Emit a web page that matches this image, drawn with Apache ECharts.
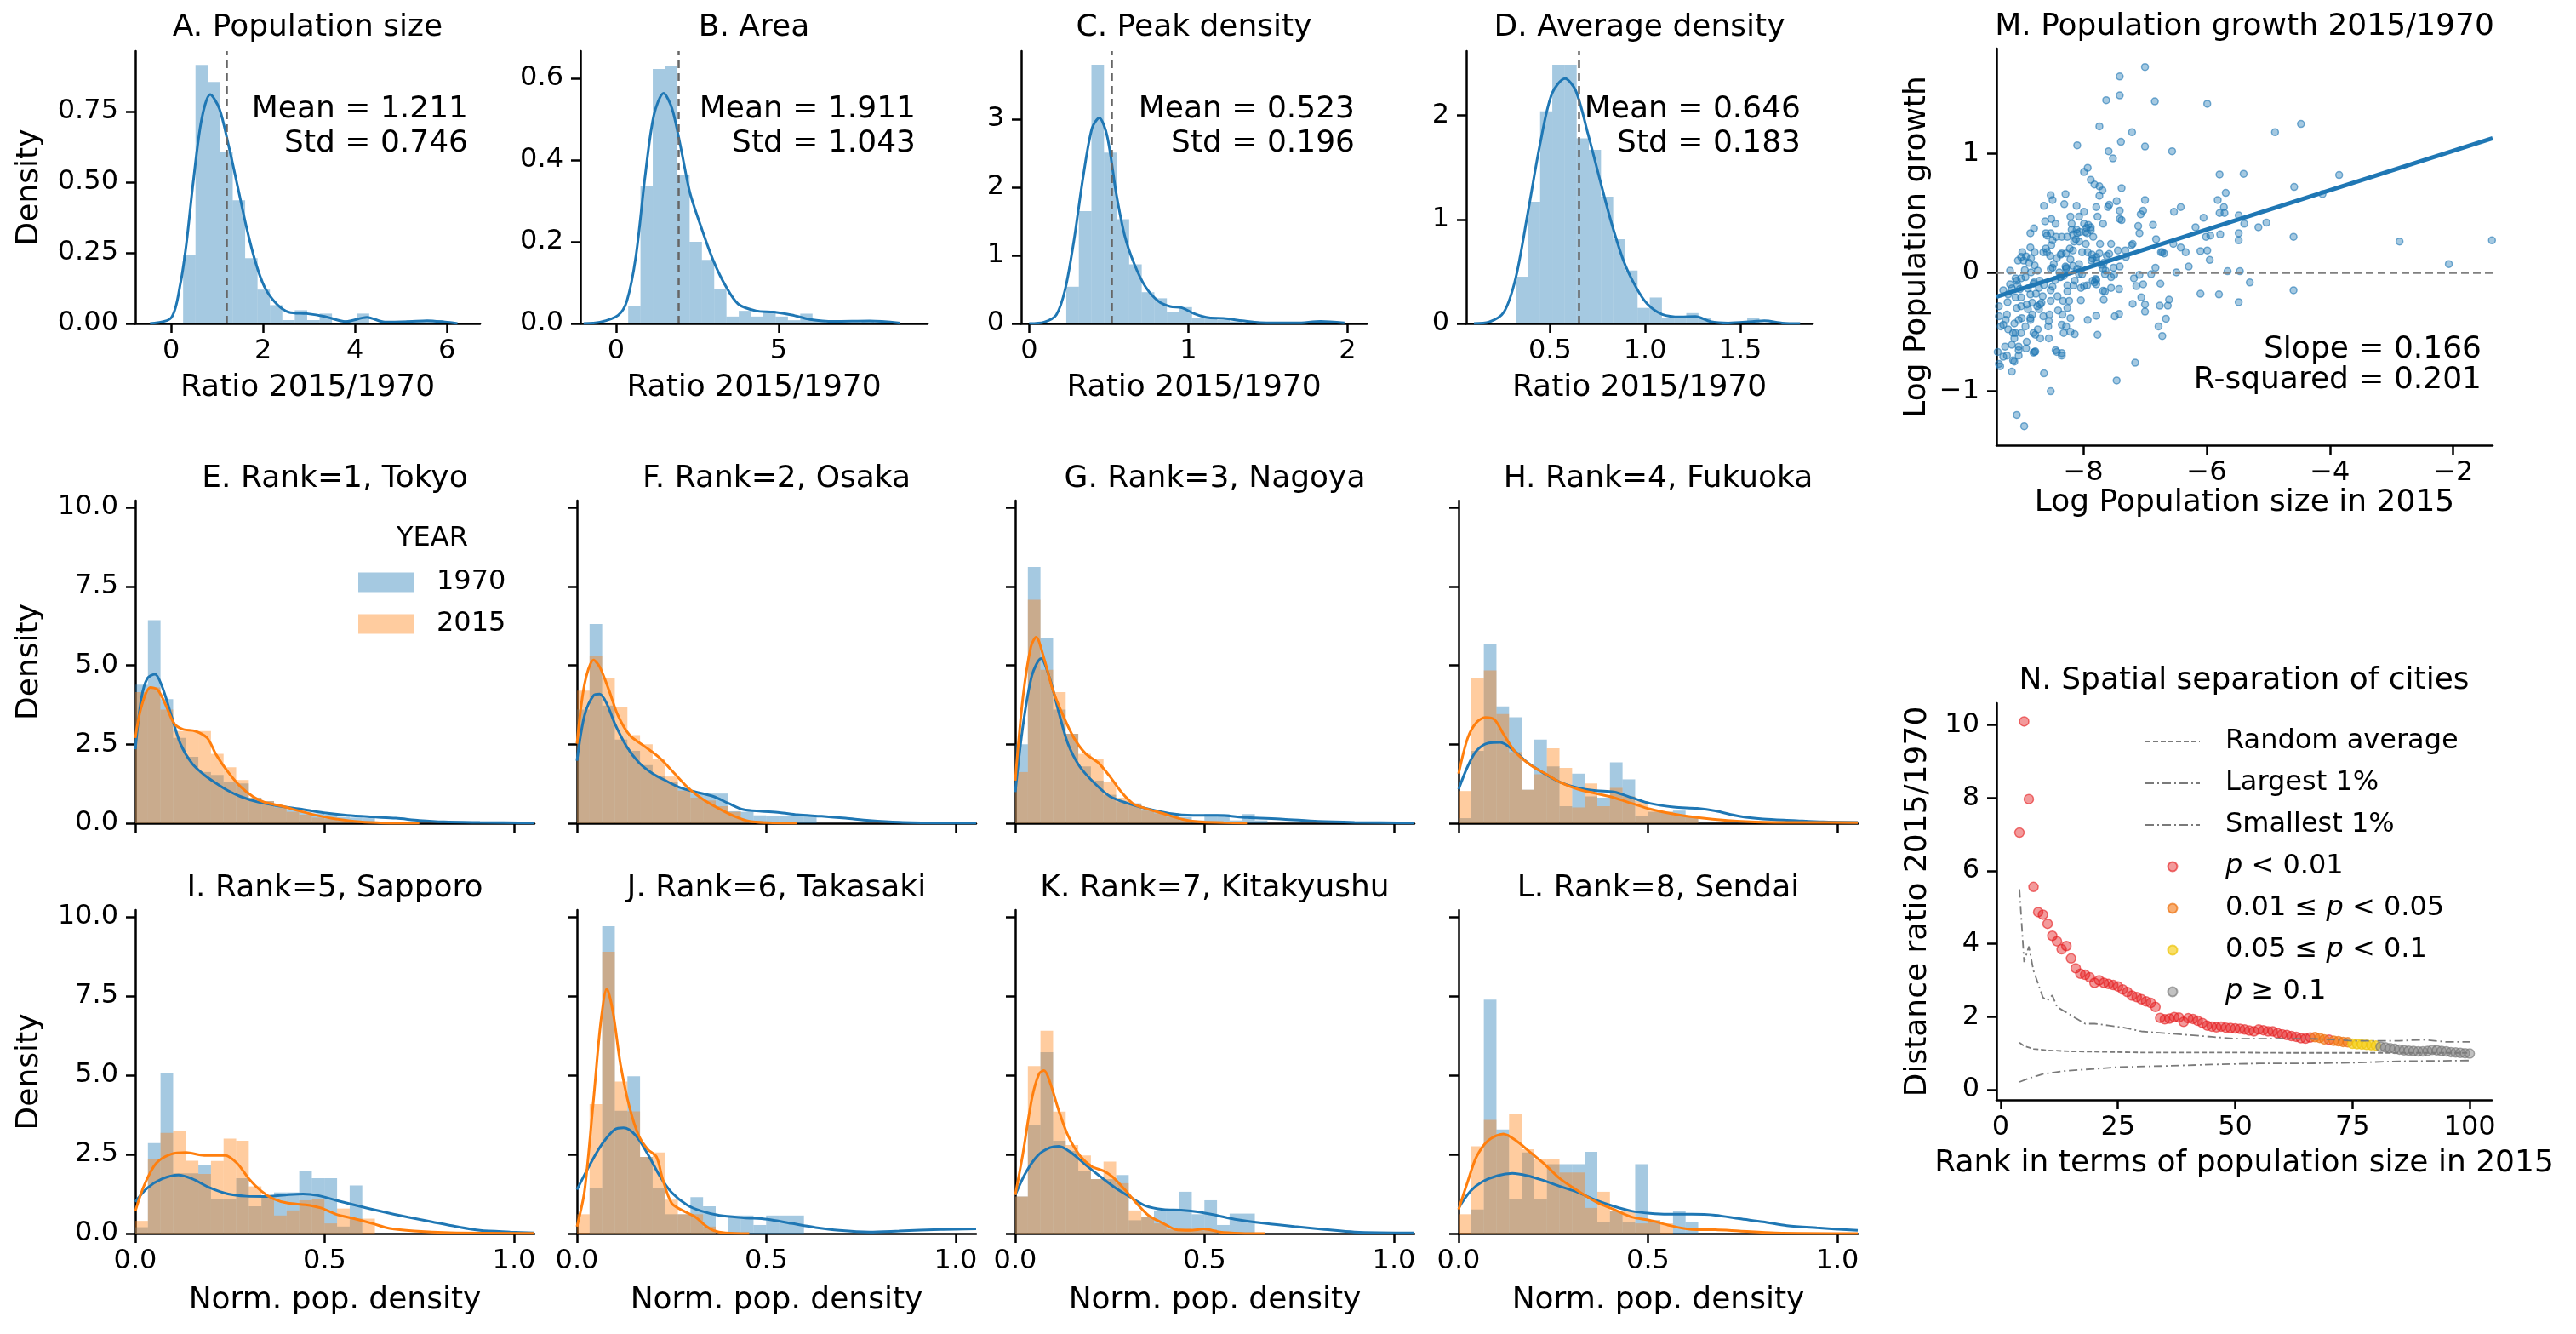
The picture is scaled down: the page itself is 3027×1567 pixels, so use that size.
<!DOCTYPE html>
<html><head><meta charset="utf-8">
<script src="https://cdn.jsdelivr.net/npm/echarts@6/dist/echarts.min.js"></script>
<style>html,body{margin:0;padding:0;background:#fff}#c{width:3027px;height:1567px}</style>
</head><body><div id="c"></div>
<script>
// ---------- Row 1: ratio 2015/1970 distributions ----------
const means = [1.211, 1.911, 0.523, 0.646];
const stds  = [0.746, 1.043, 0.196, 0.183];
const histA = [0.244,0.915,0.855,0.607,0.436,0.231,0.12,0.065,0.012,0.047,0.012,0.035,0,0.012,0.035,0,0,0,0.012,0.012,0.012];
const histB = [0.043,0.337,0.623,0.631,0.363,0.2,0.156,0.085,0.017,0.031,0.017,0.031,0.017,0.008,0.024,0.007,0,0,0,0.006];
const histC = [0.54,1.65,3.8,2.51,1.53,0.87,0.46,0.37,0.17,0.24,0.075,0.075,0.05,0.03,0,0,0,0,0,0,0.02];
const histD = [0.45,1.17,2.04,2.49,2.49,1.78,1.67,1.22,0.81,0.51,0.15,0.25,0.05,0.05,0.1,0.05,0,0,0,0.05];
const binsRow1 = [[0.26,0.27],[0.37,0.378],[0.233,0.079],[0.32,0.064]]; // [first edge, bin width]
const kdeAx = [-0.46,0,0.2,0.33,0.48,0.66,0.85,1.05,1.25,1.44,1.64,1.83,2.03,2.29,2.56,2.95,3.34,3.8,4.26,4.65,5.18,5.57,5.96,6.23];
const kdeAy = [0,0.02,0.14,0.28,0.5,0.72,0.81,0.76,0.63,0.49,0.34,0.22,0.13,0.07,0.04,0.035,0.025,0.007,0.022,0.005,0.007,0.01,0.005,0];
const kdeBx = [-1.0,-0.5,0.06,0.33,0.61,0.89,1.16,1.46,1.72,1.99,2.27,2.64,3.0,3.38,3.75,4.3,4.85,5.4,5.96,6.7,7.8,8.73];
const kdeBy = [0,0.003,0.02,0.055,0.166,0.36,0.51,0.564,0.526,0.43,0.32,0.23,0.152,0.09,0.048,0.031,0.028,0.021,0.01,0.005,0.006,0.001];
const kdeCx = [0,0.094,0.17,0.226,0.28,0.34,0.395,0.44,0.49,0.546,0.6,0.66,0.73,0.81,0.885,0.96,1.036,1.13,1.22,1.34,1.45,1.68,1.83,1.98];
const kdeCy = [0,0.02,0.125,0.5,1.2,2.17,2.87,3.02,2.75,1.92,1.29,0.875,0.54,0.33,0.25,0.23,0.146,0.083,0.075,0.04,0.012,0.008,0.03,0.008];
const kdeDx = [0.1,0.18,0.258,0.32,0.384,0.447,0.51,0.579,0.635,0.7,0.761,0.824,0.887,0.95,1.01,1.09,1.186,1.264,1.343,1.437,1.563,1.626,1.72,1.814];
const kdeDy = [0,0.014,0.11,0.44,1.07,1.72,2.21,2.355,2.24,1.82,1.39,0.96,0.6,0.355,0.19,0.087,0.063,0.068,0.019,0.005,0.019,0.027,0.005,0];

// ---------- Rows 2-3: normalized population density, 1970 vs 2015 ----------
const binWidthCity = 0.0333;
const h70E = [4.39,6.43,3.93,2.7,2.1,1.62,1.53,1.3,1.26,0.81,0.7,0.54,0.45,0.36,0.31,0.27,0.2,0.18,0.16];
const h15E = [4.15,4.3,3.6,2.92,2.92,2.92,2.2,1.77,1.37,0.81,0.7,0.5,0.36,0.27,0.18,0.13,0.09,0.045,0.02];
const k70Ex = [0,0.016,0.032,0.052,0.071,0.095,0.119,0.15,0.182,0.214,0.245,0.277,0.324,0.372,0.435,0.498,0.56,0.625,0.688,0.75,0.815,0.91,1.054];
const k70Ey = [2.34,3.96,4.59,4.72,4.32,3.42,2.52,1.89,1.53,1.26,1.03,0.85,0.67,0.56,0.45,0.33,0.25,0.2,0.16,0.09,0.045,0.027,0.01];
const k15Ex = [0,0.016,0.04,0.059,0.079,0.103,0.127,0.158,0.19,0.214,0.245,0.277,0.31,0.34,0.388,0.435,0.483,0.53,0.593,0.657,0.75];
const k15Ey = [2.7,3.69,4.3,4.23,3.78,3.15,2.97,2.92,2.7,2.16,1.62,1.17,0.85,0.67,0.54,0.38,0.24,0.135,0.045,0.01,0];

const h70F = [3.6,6.31,3.73,2.65,2.29,1.84,1.48,1.3,1.12,0.94,0.94,0.94,0.38,0.36,0.25,0.22,0.22,0.22,0.22];
const h15F = [4.2,5.29,4.59,3.69,2.79,2.5,2.02,1.48,1.03,0.81,0.72,0.54,0.36,0.09,0.06,0,0,0,0];
const k70Fx = [0,0.02,0.044,0.06,0.079,0.1,0.131,0.163,0.2,0.234,0.274,0.313,0.36,0.4,0.44,0.487,0.535,0.582,0.646,0.709,0.772,0.851,0.96,1.054];
const k70Fy = [1.98,3.42,4.05,4.09,3.78,3.15,2.43,1.93,1.57,1.35,1.12,0.99,0.85,0.63,0.43,0.38,0.34,0.27,0.22,0.16,0.09,0.036,0.01,0.005];
const k15Fx = [0,0.02,0.044,0.06,0.084,0.108,0.139,0.179,0.218,0.258,0.297,0.337,0.377,0.416,0.456,0.503,0.58];
const k15Fy = [2.52,4.41,5.17,4.95,4.23,3.42,2.79,2.43,2.07,1.57,1.08,0.72,0.45,0.22,0.06,0.02,0];

const h70G = [2.5,8.12,5.85,3.6,2.83,1.8,1.35,0.9,0.67,0.63,0.45,0.36,0.31,0.2,0.09,0.29,0.29,0.09,0.29,0.09];
const h15G = [1.62,7.08,4.86,4.15,2.83,2.2,2.02,1.3,0.81,0.61,0.4,0.31,0.2,0.09,0.06,0.045,0,0,0,0];
const k70Gx = [0,0.02,0.044,0.068,0.091,0.115,0.139,0.17,0.21,0.25,0.297,0.344,0.407,0.47,0.533,0.612,0.707,0.8,0.896,1.054];
const k70Gy = [0.99,3.06,4.68,5.22,4.59,3.51,2.52,1.8,1.26,0.85,0.63,0.47,0.31,0.25,0.25,0.18,0.13,0.06,0.03,0.01];
const k15Gx = [0,0.02,0.041,0.055,0.076,0.099,0.126,0.155,0.186,0.218,0.25,0.28,0.31,0.344,0.39,0.44,0.486,0.55,0.612];
const k15Gy = [1.35,3.96,5.58,5.89,5.22,4.23,3.42,2.7,2.2,1.93,1.48,0.99,0.63,0.47,0.31,0.13,0.045,0.02,0];

const h70H = [0.16,2.29,5.68,3.7,3.36,1.06,2.65,1.8,0.54,1.57,0.85,0.81,1.93,1.39,0.22,0.36,0.36,0.4,0.22];
const h15H = [1.02,4.6,4.84,3.46,2.25,1.06,1.55,2.37,1.75,0.5,1.26,0.54,1.12,0.85,0.7,0.4,0.36,0.22,0.22];
const k70Hx = [0,0.024,0.047,0.079,0.11,0.142,0.181,0.22,0.268,0.315,0.363,0.41,0.457,0.505,0.568,0.63,0.678,0.741,0.804,0.883,0.962,1.054];
const k70Hy = [1.08,1.8,2.29,2.54,2.56,2.34,1.93,1.62,1.3,1.12,1.03,0.99,0.81,0.63,0.51,0.47,0.39,0.22,0.135,0.09,0.045,0.03];
const k15Hx = [0,0.024,0.047,0.071,0.095,0.118,0.15,0.19,0.229,0.268,0.315,0.363,0.41,0.457,0.505,0.568,0.63,0.71,0.804,0.915,1.054];
const k15Hy = [1.57,2.7,3.19,3.35,3.28,2.83,2.25,1.84,1.57,1.3,1.08,0.94,0.81,0.63,0.45,0.29,0.18,0.09,0.036,0.027,0.02];

const h70I = [0.2,2.86,5.07,1.9,1.9,2.17,1.08,1.08,1.75,0.86,1.15,1.3,1.3,1.96,1.75,1.75,0.22,1.52,0,0];
const h15I = [0.4,2.37,3.18,3.25,2.3,1.88,2.29,3.0,2.93,1.49,1.15,0.57,0.73,1.05,1.1,0.32,0.79,0.47,0.47];
const k70Ix = [0,0.032,0.071,0.114,0.15,0.198,0.245,0.293,0.34,0.396,0.443,0.483,0.53,0.593,0.657,0.72,0.783,0.847,0.91,0.99,1.054];
const k70Iy = [1.0,1.44,1.73,1.85,1.73,1.44,1.25,1.18,1.17,1.22,1.25,1.2,1.05,0.86,0.68,0.52,0.37,0.22,0.1,0.05,0.02];
const k15Ix = [0,0.024,0.055,0.095,0.134,0.182,0.237,0.269,0.3,0.332,0.364,0.403,0.45,0.49,0.53,0.578,0.625,0.672,0.736,0.83,1.054];
const k15Iy = [0.71,1.54,2.22,2.51,2.56,2.47,2.47,2.22,1.73,1.35,1.1,0.96,0.91,0.81,0.61,0.47,0.32,0.16,0.08,0.03,0.01];

const h70J = [0,1.44,9.71,3.88,4.97,2.42,1.44,0.61,0.61,1.15,0.86,0,0.57,0.57,0.27,0.57,0.57,0.57];
const h15J = [0.61,4.09,8.9,4.8,3.86,2.42,2.56,1.07,0.61,0.61,0.22,0,0,0,0,0,0,0];
const k70Jx = [0,0.036,0.068,0.1,0.123,0.155,0.187,0.218,0.25,0.29,0.329,0.377,0.44,0.503,0.566,0.63,0.693,0.772,0.85,0.96,1.054];
const k70Jy = [1.39,2.22,2.86,3.29,3.34,3.1,2.51,1.83,1.3,0.91,0.71,0.57,0.5,0.45,0.32,0.19,0.1,0.05,0.08,0.13,0.15];
const k15Jx = [0,0.02,0.044,0.063,0.079,0.095,0.115,0.139,0.163,0.187,0.21,0.226,0.25,0.282,0.313,0.337,0.36,0.392,0.455];
const k15Jy = [0.22,1.35,4.27,6.7,7.73,7.0,5.34,3.98,3.1,2.66,2.42,1.73,0.96,0.71,0.52,0.27,0.1,0.02,0];

const h70K = [1.17,3.44,5.73,2.93,2.61,1.98,1.72,1.72,1.85,0.42,0.52,0.73,0.73,1.32,0.61,1.05,0.27,0.63,0.63];
const h15K = [1.17,5.29,6.41,3.85,2.8,2.47,1.72,2.27,1.59,0.73,0.52,0.32,0.13,0.18,0.08,0.13,0,0,0];
const k70Kx = [0,0.028,0.06,0.091,0.115,0.147,0.186,0.226,0.265,0.304,0.344,0.391,0.438,0.486,0.533,0.58,0.66,0.738,0.817,0.896,1.054];
const k70Ky = [1.22,1.93,2.47,2.71,2.76,2.56,2.17,1.79,1.44,1.15,0.88,0.76,0.74,0.68,0.57,0.45,0.32,0.22,0.13,0.05,0.02];
const k15Kx = [0,0.02,0.044,0.063,0.076,0.091,0.115,0.139,0.17,0.202,0.233,0.257,0.289,0.32,0.352,0.391,0.423,0.462,0.5,0.54,0.596,0.66];
const k15Ky = [1.22,2.51,4.27,5.05,5.15,4.8,3.88,3.1,2.47,2.12,1.98,1.79,1.39,0.96,0.57,0.32,0.13,0.1,0.14,0.05,0.01,0];

const h70L = [0,0.76,7.39,3.29,1.1,2.56,1.1,2.19,2.19,2.19,2.58,0.37,0.71,0.37,2.19,0.42,0,0.71,0.37];
const h15L = [0.61,2.76,3.59,3.15,3.78,2.66,2.37,2.37,1.93,1.93,0.81,1.32,0.71,0.71,0.32,0.42,0.32,0,0];
const k70Lx = [0,0.032,0.063,0.103,0.142,0.181,0.221,0.268,0.315,0.363,0.41,0.457,0.505,0.552,0.615,0.678,0.741,0.804,0.867,0.946,1.054];
const k70Ly = [0.81,1.35,1.64,1.83,1.9,1.83,1.69,1.49,1.3,1.05,0.86,0.71,0.64,0.61,0.61,0.58,0.47,0.37,0.25,0.18,0.1];
const k15Lx = [0,0.024,0.047,0.079,0.118,0.15,0.19,0.229,0.268,0.315,0.363,0.41,0.457,0.505,0.552,0.615,0.678,0.741,0.836,1.054];
const k15Ly = [0.76,1.64,2.42,2.95,3.15,2.95,2.56,2.17,1.73,1.35,1.0,0.76,0.52,0.42,0.27,0.13,0.12,0.08,0.02,0];

// ---------- Panel M: log growth vs log size ----------
const mLogSize = [-7.0,-7.41,-7.41,-7.63,-6.84,-5.99,-4.47,-7.74,-7.21,-4.89,-7.39,-8.1,-7.0,-6.56,-7.59,-7.52,-7.93,-7.99,-5.79,-5.40,-3.85,-7.88,-7.82,-7.74,-7.69,-7.38,-4.58,-8.53,-8.29,-7.74,-8.5,-7.0,-5.69,-5.82,-4.12,-8.64,-8.31,-8.11,-7.79,-7.58,-7.46,-7.99,-7.41,-7.03,-7.07,-6.53,-6.42,-5.72,-5.71,-5.48,-5.79,-6.05,-8.52,-8.62,-8.45,-8.8,-8.86,-8.61,-8.59,-8.53,-8.17,-8.26,-8.11,-7.95,-8.06,-7.88,-8.19,-8.07,-8.15,-7.84,-7.73,-7.55,-7.41,-7.38,-7.11,-7.09,-6.87,-6.82,-6.18,-6.01,-5.94,-5.78,-5.48,-5.48,-5.39,-5.16,-5.03,-4.59,-2.87,-1.37,-2.07,-4.59,-5.48,-5.3,-5.66,-5.46,-5.8,-6.1,-6.29,-5.95,-5.99,-6.1,-6.34,-6.42,-6.54,-6.72,-6.69,-6.83,-6.9,-6.49,-6.75,-6.61,-6.63,-6.76,-6.66,-6.78,-6.72,-7.0,-7.0,-7.06,-7.2,-7.14,-7.18,-7.09,-7.22,-7.2,-7.32,-7.31,-7.41,-7.51,-7.67,-7.62,-7.74,-7.79,-7.68,-7.65,-7.55,-7.79,-7.82,-7.79,-7.65,-7.67,-7.42,-7.42,-7.49,-7.79,-7.93,-7.77,-7.16,-7.46,-8.04,-7.94,-8.07,-8.02,-7.93,-7.96,-8.17,-8.22,-8.21,-8.29,-8.28,-8.39,-8.32,-8.14,-8.26,-8.16,-8.26,-8.37,-8.23,-8.33,-8.26,-8.35,-8.28,-8.32,-8.21,-8.14,-8.35,-8.45,-8.41,-8.42,-8.5,-8.46,-8.5,-8.48,-8.43,-8.37,-8.54,-8.65,-8.52,-8.5,-8.35,-8.35,-8.56,-8.53,-8.53,-8.64,-8.71,-8.72,-8.66,-8.77,-8.68,-8.72,-8.65,-8.74,-8.7,-8.81,-8.78,-8.81,-8.64,-8.53,-8.83,-8.86,-8.83,-8.9,-8.86,-8.9,-8.81,-8.85,-8.94,-8.95,-8.85,-8.88,-8.79,-8.74,-8.99,-9.01,-8.97,-8.93,-9.06,-9.01,-9.08,-9.07,-9.03,-9.1,-9.01,-8.92,-9.01,-9.08,-8.86,-9.05,-9.0,-9.12,-8.94,-9.01,-9.1,-8.92,-9.19,-9.1,-9.19,-9.16,-9.22,-9.3,-9.23,-9.24,-9.26,-9.3,-9.22,-9.14,-9.12,-9.16,-9.27,-9.3,-9.14,-9.12,-9.05,-9.16,-9.08,-8.96,-9.05,-9.37,-9.37,-9.34,-9.39,-9.37,-9.35,-9.24,-9.05,-8.93,-8.79,-8.78,-8.57,-8.56,-8.43,-8.35,-8.21,-8.34,-8.04,-7.99,-8.07,-8.1,-8.28,-8.02,-8.17,-8.44,-8.59,-8.61,-8.79,-8.86,-8.8,-8.7,-8.75,-8.55,-8.53,-8.38,-8.28,-8.12,-7.99,-8.19,-8.21,-8.07,-8.1,-7.97,-7.94,-7.88,-7.86,-7.79,-7.87,-7.71,-7.64,-7.44,-7.58,-7.8,-7.85,-7.55,-7.68,-7.5,-7.85,-7.68,-7.6,-7.77,-7.92,-7.03,-6.74];
const mLogGrowth = [1.73,1.65,1.49,1.45,1.44,1.42,1.25,1.23,1.18,1.18,1.10,1.07,1.06,1.02,1.02,0.96,0.88,0.845,0.825,0.83,0.82,0.78,0.74,0.725,0.69,0.71,0.72,0.65,0.66,0.645,0.61,0.61,0.67,0.61,0.66,0.56,0.575,0.56,0.55,0.57,0.6,0.51,0.52,0.52,0.49,0.51,0.55,0.55,0.5,0.48,0.5,0.46,0.45,0.43,0.41,0.37,0.33,0.33,0.31,0.33,0.32,0.3,0.36,0.375,0.34,0.38,0.36,0.26,0.26,0.3,0.24,0.24,0.45,0.44,0.39,0.33,0.4,0.28,0.38,0.3,0.31,0.32,0.33,0.27,0.41,0.38,0.42,0.3,0.26,0.27,0.07,-0.15,-0.25,-0.085,0.01,0.01,-0.185,-0.18,0.05,0.105,0.185,0.18,0.17,0.21,0.24,0.17,0.16,0.04,-0.015,0.0,-0.095,-0.23,-0.28,-0.28,-0.39,-0.455,-0.535,-0.33,-0.27,-0.21,-0.265,-0.115,-0.05,-0.02,0.23,0.24,0.185,0.13,0.05,0.04,0.08,0.14,0.16,0.1,0.03,-0.015,-0.04,-0.065,-0.085,-0.1,-0.16,-0.23,-0.14,-0.35,-0.37,-0.365,-0.4,-0.525,-0.76,-0.91,-0.13,-0.11,-0.015,0.17,0.17,0.24,0.185,0.2,0.11,0.05,0.03,0.0,-0.03,-0.07,-0.11,-0.11,-0.16,-0.04,-0.24,-0.24,-0.3,-0.44,-0.455,-0.51,-0.5,-0.52,-0.7,-0.655,-0.32,-0.2,-0.12,-0.065,0.04,0.07,0.12,0.15,0.14,0.17,0.23,0.27,0.3,0.16,-0.555,-0.24,-0.15,-0.105,-0.07,-0.13,-0.2,-0.18,-0.255,-0.31,-0.37,-0.48,-0.555,-0.51,-0.665,-0.675,-0.85,-1.0,-0.255,-0.385,-0.355,-0.31,-0.185,-0.135,-0.095,0.0,-0.04,0.02,0.12,0.08,0.06,0.015,0.17,0.13,0.1,0.135,0.1,-0.05,-0.07,-0.11,-0.14,-0.21,-0.21,-0.27,-0.285,-0.3,-0.4,-0.4,-0.385,-0.43,-0.455,-0.51,-0.51,-0.585,0.015,-0.05,-0.1,-0.135,-0.185,-0.15,-0.25,-0.355,-0.4,-0.44,-0.48,-0.51,-0.555,-0.61,-0.625,-0.71,-0.74,-0.75,-0.625,-0.835,-1.2,-1.295,-0.7,-0.285,-0.37,-0.455,-0.67,-0.77,-0.79,-0.7,-0.655,-0.64,-0.67,-0.525,-0.455,-0.41,-0.67,-0.68,-0.385,-0.355,-0.235,-0.115,0.07,0.03,0.04,-0.015,0.055,0.3,0.17,0.2,0.17,0.21,-0.085,-0.27,-0.285,-0.355,0.03,-0.04,0.16,0.28,0.41,0.41,0.47,0.47,0.33,0.34,0.33,0.355,0.15,0.13,0.1,0.065,0.015,0.185,0.155,-0.055,-0.07,-0.13,-0.155,-0.02,0.115,0.41,0.55,0.47,0.4,-0.1,0.17];
const fitEndsX = [-9.41, -1.36];
const fitEndsY = [-0.206, 1.13];
const slopeM = 0.166, r2M = 0.201;

// ---------- Panel N: distance ratio by rank ----------
const rankP001 = [4,5,6,7,8,9,10,11,12,13,14,15,16,17,18,19,20,21,22,23,24,25,26,27,28,29,30,31,32,33,34,35,36,37,38,39,40,41,42,43,44,45,46,47,48,49,50,51,52,53,54,55,56,57,58,59,60,61,62,63,64,65,66,70];
const ratioP001 = [7.05,10.1,7.97,5.56,4.87,4.8,4.55,4.22,4.07,3.85,3.94,3.6,3.33,3.18,3.15,3.08,2.93,3.0,2.93,2.9,2.87,2.83,2.75,2.68,2.58,2.54,2.48,2.42,2.38,2.27,1.97,1.93,1.95,1.99,1.98,1.86,1.96,1.94,1.89,1.83,1.76,1.73,1.71,1.73,1.7,1.69,1.68,1.67,1.65,1.62,1.6,1.65,1.63,1.6,1.6,1.55,1.52,1.5,1.47,1.45,1.41,1.4,1.43,1.37];
const rankP005 = [67,68,69,71,72,73,74];
const ratioP005 = [1.44,1.42,1.38,1.34,1.33,1.31,1.3];
const rankP01 = [75,76,77,78,79,80];
const ratioP01 = [1.26,1.25,1.24,1.23,1.22,1.21];
const rankPns = [81,82,83,84,85,86,87,88,89,90,91,92,93,94,95,96,97,98,99,100];
const ratioPns = [1.18,1.16,1.14,1.12,1.1,1.08,1.07,1.06,1.05,1.05,1.06,1.09,1.08,1.06,1.05,1.03,1.02,1.01,1.0,0.99];
const randRank = [4,5,7,10,15,20,30,40,50,60,75,90,100];
const randRatio = [1.29,1.2,1.12,1.08,1.05,1.04,1.02,1.02,1.02,1.01,1.01,1.01,1.01];
const largeRank = [4,5,6,7,8,9,10,11,12,14,16,18,20,23,26,30,35,40,45,50,55,60,65,70,75,80,85,90,95,100];
const largeRatio = [5.5,3.5,3.93,3.26,2.9,2.53,2.45,2.59,2.27,2.12,1.96,1.81,1.81,1.76,1.71,1.6,1.55,1.5,1.45,1.4,1.4,1.4,1.4,1.38,1.34,1.34,1.34,1.37,1.31,1.31];
const smallRank = [4,6,9,14,20,25,35,45,55,65,75,85,100];
const smallRatio = [0.21,0.31,0.43,0.52,0.57,0.62,0.65,0.69,0.72,0.72,0.74,0.78,0.8];

// ---------- styling / layout ----------
const FONT = 'DejaVu Sans';
const BLUE = '#1f77b4', ORANGE = '#ff7f0e';
const BLUE_A = 'rgba(31,119,180,0.4)', ORANGE_A = 'rgba(255,127,14,0.4)';
const grids = [], xAxes = [], yAxes = [], series = [], titles = [], graphics = [];

function axis(kind, gi, range, ticks, dec, showLabels, name, nameGap, minus) {
  return {
    type: 'value', gridIndex: gi, min: range[0], max: range[1],
    position: kind === 'x' ? 'bottom' : 'left',
    name: name || '', nameLocation: 'middle', nameGap: nameGap || 0,
    nameTextStyle: {fontFamily: FONT, fontSize: 36, color: '#000'},
    axisLine: {show: true, onZero: false, lineStyle: {color: '#000', width: 2.5}},
    axisTick: {show: true, inside: false, length: 11, lineStyle: {color: '#000', width: 2.5}, customValues: ticks},
    axisLabel: {show: showLabels, customValues: ticks, fontFamily: FONT, fontSize: 32, color: '#000',
      margin: kind === 'x' ? 17 : 20,
      formatter: v => { let s = Number(v).toFixed(dec); if (minus) s = s.replace('-', '\u2212'); return s; }},
    splitLine: {show: false}, splitArea: {show: false}
  };
}
function panel(c) {
  const gi = grids.length;
  grids.push({left: c.box[0], top: c.box[1], width: c.box[2], height: c.box[3], containLabel: false, outerBoundsMode: 'none'});
  xAxes.push(axis('x', gi, c.xr, c.xt, c.xd, c.xl, c.xName, c.xGap, c.minus));
  yAxes.push(axis('y', gi, c.yr, c.yt, c.yd, c.yl, c.yName, c.yGap, c.minus));
  titles.push({text: c.title, left: c.box[0] + c.box[2] / 2, top: c.titleTop, textAlign: 'center', padding: 0,
    textStyle: {fontFamily: FONT, fontSize: 36, fontWeight: 'normal', color: '#000'}});
  return gi;
}
function histSeries(gi, start, w, heights, fill, name) {
  return {type: 'custom', name, xAxisIndex: gi, yAxisIndex: gi, silent: true,
    encode: {x: [0, 1], y: 2},
    data: heights.map((h, k) => [start + k * w, start + (k + 1) * w, h]),
    renderItem: (p, api) => {
      const a = api.coord([api.value(0), 0]);
      const b = api.coord([api.value(1), api.value(2)]);
      return {type: 'rect', shape: {x: a[0], y: b[1], width: b[0] - a[0], height: a[1] - b[1]}, style: {fill}};
    }};
}
function kdeSeries(gi, xs, ys, color, name) {
  return {type: 'line', name, xAxisIndex: gi, yAxisIndex: gi, silent: true, symbol: 'none', smooth: 0.3,
    data: xs.map((x, k) => [x, ys[k]]), lineStyle: {color, width: 3}};
}
const annot = (x, y, text) => ({type: 'text', x, y, style: {text, fontFamily: FONT, fontSize: 36, fill: '#000', align: 'right', verticalAlign: 'middle'}});

// Row 1
const row1 = [
  {t: 'A. Population size', box: [159, 60, 405, 320], xr: [-0.78, 6.72], xt: [0, 2, 4, 6], xd: 0, yr: [0, 0.964], yt: [0, 0.25, 0.5, 0.75], yd: 2, h: histA, kx: kdeAx, ky: kdeAy},
  {t: 'B. Area', box: [682, 60, 408, 320], xr: [-1.1, 9.58], xt: [0, 5], xd: 0, yr: [0, 0.667], yt: [0, 0.2, 0.4, 0.6], yd: 1, h: histB, kx: kdeBx, ky: kdeBy},
  {t: 'C. Peak density', box: [1200, 60, 406, 320], xr: [-0.05, 2.12], xt: [0, 1, 2], xd: 0, yr: [0, 4.0], yt: [0, 1, 2, 3], yd: 0, h: histC, kx: kdeCx, ky: kdeCy},
  {t: 'D. Average density', box: [1723, 60, 407, 320], xr: [0.06, 1.88], xt: [0.5, 1.0, 1.5], xd: 1, yr: [0, 2.62], yt: [0, 1, 2], yd: 0, h: histD, kx: kdeDx, ky: kdeDy}
];
row1.forEach((r, i) => {
  const gi = panel({title: r.t, titleTop: 15, box: r.box, xr: r.xr, xt: r.xt, xd: r.xd, xl: true, xName: 'Ratio 2015/1970', xGap: 58,
    yr: r.yr, yt: r.yt, yd: r.yd, yl: true, yName: i === 0 ? 'Density' : '', yGap: 106});
  series.push(histSeries(gi, binsRow1[i][0], binsRow1[i][1], r.h, BLUE_A, 'ratio'));
  const k = kdeSeries(gi, r.kx, r.ky, BLUE, 'kde');
  k.markLine = {symbol: 'none', silent: true, label: {show: false}, lineStyle: {color: '#666', width: 2.5, type: [9, 6]},
    data: [{xAxis: means[i]}]};
  series.push(k);
  const right = r.box[0] + r.box[2] - 14;
  graphics.push(annot(right, 129, 'Mean = ' + means[i].toFixed(3)));
  graphics.push(annot(right, 169, 'Std = ' + stds[i].toFixed(3)));
});

// Rows 2-3
const cityTitles = ['E. Rank=1, Tokyo', 'F. Rank=2, Osaka', 'G. Rank=3, Nagoya', 'H. Rank=4, Fukuoka',
  'I. Rank=5, Sapporo', 'J. Rank=6, Takasaki', 'K. Rank=7, Kitakyushu', 'L. Rank=8, Sendai'];
const cityH70 = [h70E, h70F, h70G, h70H, h70I, h70J, h70K, h70L];
const cityH15 = [h15E, h15F, h15G, h15H, h15I, h15J, h15K, h15L];
const cityK70 = [[k70Ex, k70Ey], [k70Fx, k70Fy], [k70Gx, k70Gy], [k70Hx, k70Hy], [k70Ix, k70Iy], [k70Jx, k70Jy], [k70Kx, k70Ky], [k70Lx, k70Ly]];
const cityK15 = [[k15Ex, k15Ey], [k15Fx, k15Fy], [k15Gx, k15Gy], [k15Hx, k15Hy], [k15Ix, k15Iy], [k15Jx, k15Jy], [k15Kx, k15Ky], [k15Lx, k15Ly]];
const colLeft = [159, 678, 1193, 1714];
const densTicks = [0, 2.5, 5, 7.5, 10];
cityTitles.forEach((t, i) => {
  const row = Math.floor(i / 4), col = i % 4;
  const top = row === 0 ? 588 : 1069, h = row === 0 ? 379 : 380;
  const gi = panel({title: t, titleTop: row === 0 ? 545 : 1026, box: [colLeft[col], top, 469, h],
    xr: [0, 1.054], xt: [0, 0.5, 1.0], xd: 1, xl: row === 1, xName: row === 1 ? 'Norm. pop. density' : '', xGap: 61,
    yr: [0, 10.22], yt: densTicks, yd: 1, yl: col === 0, yName: col === 0 ? 'Density' : '', yGap: 106});
  series.push(histSeries(gi, 0, binWidthCity, cityH70[i], BLUE_A, '1970'));
  series.push(kdeSeries(gi, cityK70[i][0], cityK70[i][1], BLUE, 'kde1970'));
  series.push(histSeries(gi, 0, binWidthCity, cityH15[i], ORANGE_A, '2015'));
  series.push(kdeSeries(gi, cityK15[i][0], cityK15[i][1], ORANGE, 'kde2015'));
});

// Panel M
const gM = panel({title: 'M. Population growth 2015/1970', titleTop: 14, box: [2346, 57, 583, 466],
  xr: [-9.41, -1.36], xt: [-8, -6, -4, -2], xd: 0, xl: true, xName: 'Log Population size in 2015', xGap: 50,
  yr: [-1.455, 1.885], yt: [-1, 0, 1], yd: 0, yl: true, yName: 'Log Population growth', yGap: 75, minus: true});
series.push({type: 'scatter', name: 'cities', xAxisIndex: gM, yAxisIndex: gM, silent: true, symbolSize: 8,
  data: mLogSize.map((x, k) => [x, mLogGrowth[k]]),
  itemStyle: {color: 'rgba(31,119,180,0.5)', borderColor: 'rgba(31,119,180,0.75)', borderWidth: 1.5}});
series.push({type: 'line', name: 'fit', xAxisIndex: gM, yAxisIndex: gM, silent: true, symbol: 'none',
  data: fitEndsX.map((x, k) => [x, fitEndsY[k]]), lineStyle: {color: BLUE, width: 5},
  markLine: {symbol: 'none', silent: true, label: {show: false}, lineStyle: {color: '#808080', width: 2.5, type: [9, 5]}, data: [{yAxis: 0}]}});
graphics.push(annot(2916, 411, 'Slope = ' + slopeM.toFixed(3)));
graphics.push(annot(2916, 447, 'R-squared = ' + r2M.toFixed(3)));

// Panel N
const gN = panel({title: 'N. Spatial separation of cities', titleTop: 782, box: [2346, 826, 582, 466],
  xr: [-0.9, 104.7], xt: [0, 25, 50, 75, 100], xd: 0, xl: true, xName: 'Rank in terms of population size in 2015', xGap: 57,
  yr: [-0.28, 10.6], yt: [0, 2, 4, 6, 8, 10], yd: 0, yl: true, yName: 'Distance ratio 2015/1970', yGap: 74});
const lineN = (name, xs, ys, type) => ({type: 'line', name, xAxisIndex: gN, yAxisIndex: gN, silent: true, symbol: 'none',
  data: xs.map((x, k) => [x, ys[k]]), lineStyle: {color: '#7a7a7a', width: 1.8, type}});
series.push(lineN('Random average', randRank, randRatio, [6, 3]));
series.push(lineN('Largest 1%', largeRank, largeRatio, [10, 4, 2, 4]));
series.push(lineN('Smallest 1%', smallRank, smallRatio, [10, 4, 2, 4]));
const dotN = (name, xs, ys, fill, edge) => ({type: 'scatter', name, xAxisIndex: gN, yAxisIndex: gN, silent: true, symbolSize: 11,
  data: xs.map((x, k) => [x, ys[k]]), itemStyle: {color: fill, borderColor: edge, borderWidth: 1.5}});
series.push(dotN('p < 0.01', rankP001, ratioP001, 'rgba(228,26,28,0.55)', 'rgba(228,26,28,0.75)'));
series.push(dotN('0.01 \u2264 p < 0.05', rankP005, ratioP005, 'rgba(245,120,20,0.75)', 'rgba(235,110,10,0.85)'));
series.push(dotN('0.05 \u2264 p < 0.1', rankP01, ratioP01, 'rgba(245,205,20,0.8)', 'rgba(235,195,10,0.9)'));
series.push(dotN('p \u2265 0.1', rankPns, ratioPns, 'rgba(128,128,128,0.6)', 'rgba(110,110,110,0.75)'));

graphics.push({type: 'text', x: 508, y: 633, style: {text: 'YEAR', fontFamily: FONT, fontSize: 32, fill: '#000', align: 'center', verticalAlign: 'middle'}});

const noSymbol = {color: 'rgba(0,0,0,0)', borderColor: 'rgba(0,0,0,0)', borderWidth: 0, opacity: 0};
const chart = echarts.init(document.getElementById('c'), null, {renderer: 'canvas'});
chart.setOption({
  animation: false,
  backgroundColor: '#fff',
  textStyle: {fontFamily: FONT},
  title: titles,
  grid: grids, xAxis: xAxes, yAxis: yAxes,
  legend: [
    {selectedMode: false, orient: 'vertical', left: 421, top: 668, itemWidth: 66, itemHeight: 23, itemGap: 17, padding: 0, icon: 'rect',
      textStyle: {fontFamily: FONT, fontSize: 32, color: '#000', padding: [0, 0, 0, 21]},
      data: [{name: '1970', itemStyle: {color: BLUE_A}}, {name: '2015', itemStyle: {color: ORANGE_A}}]},
    {selectedMode: false, orient: 'vertical', left: 2520, top: 855, itemWidth: 64, itemHeight: 11, itemGap: 17, padding: 0,
      textStyle: {fontFamily: FONT, fontSize: 32, color: '#000', padding: [0, 0, 0, 25],
        rich: {i: {fontFamily: FONT, fontSize: 32, fontStyle: 'italic', color: '#000'}}},
      formatter: n => n.replace(/\bp\b/g, '{i|p}'),
      data: [{name: 'Random average', itemStyle: noSymbol}, {name: 'Largest 1%', itemStyle: noSymbol}, {name: 'Smallest 1%', itemStyle: noSymbol},
        'p < 0.01', '0.01 \u2264 p < 0.05', '0.05 \u2264 p < 0.1', 'p \u2265 0.1']}
  ],
  graphic: graphics,
  series: series
});
</script></body></html>
